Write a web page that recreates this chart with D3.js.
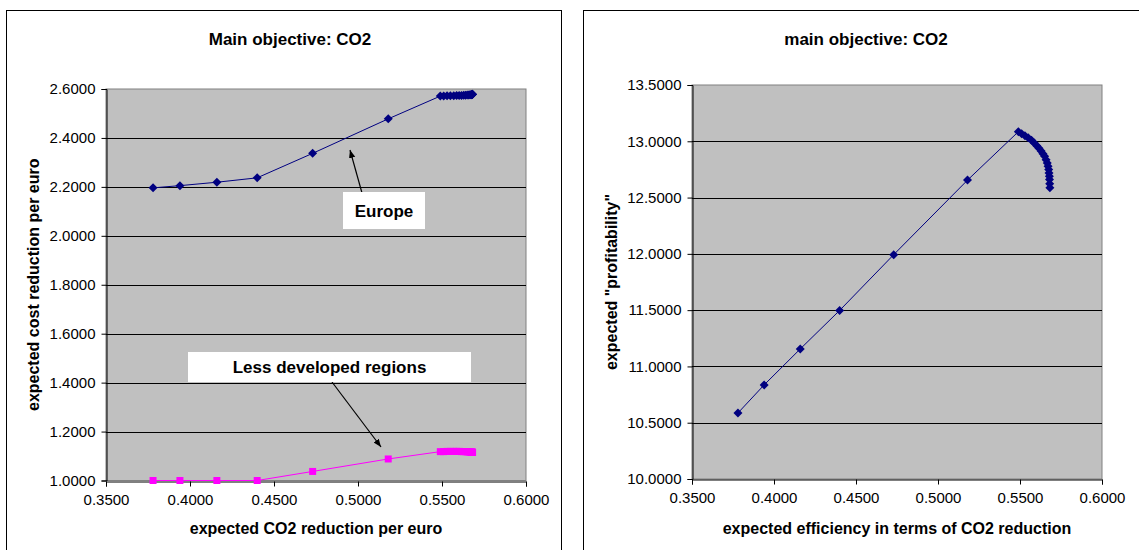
<!DOCTYPE html>
<html><head><meta charset="utf-8">
<script src="https://cdn.jsdelivr.net/npm/d3@7"></script>
<style>body{margin:0;background:#fff}svg{display:block}text{font-family:Arial,"Liberation Sans",sans-serif}</style>
</head><body>
<svg id="c" width="1139" height="550"></svg>
<script>
// ---- data ----
const co2Reduction = [0.378, 0.394, 0.416, 0.440, 0.473, 0.518,
  0.549, 0.551, 0.553, 0.555, 0.557, 0.5587, 0.5602, 0.5616, 0.5629, 0.5640,
  0.5650, 0.5659, 0.5666, 0.5671, 0.5675, 0.5677, 0.5679, 0.5680, 0.5681, 0.5682];
const europeCost = [2.196, 2.205, 2.219, 2.237, 2.337, 2.478,
  2.571, 2.571, 2.572, 2.572, 2.572, 2.573, 2.573, 2.573, 2.574, 2.574,
  2.575, 2.575, 2.576, 2.576, 2.577, 2.577, 2.578, 2.578, 2.579, 2.579];
const lessDevelopedCost = [1.000, 1.000, 1.000, 1.000, 1.037, 1.088,
  1.118, 1.118, 1.119, 1.119, 1.119, 1.119, 1.119, 1.118, 1.118, 1.118,
  1.117, 1.117, 1.117, 1.116, 1.116, 1.116, 1.116, 1.115, 1.115, 1.115];
const profitability = [10.586, 10.836, 11.155, 11.497, 11.993, 12.655,
  13.085, 13.067, 13.050, 13.032, 13.009, 12.985, 12.961, 12.938, 12.914, 12.890,
  12.867, 12.837, 12.808, 12.779, 12.749, 12.719, 12.690, 12.660, 12.622, 12.587];
const xTicks = [0.35, 0.40, 0.45, 0.50, 0.55, 0.60];
const leftYTicks = [1.0, 1.2, 1.4, 1.6, 1.8, 2.0, 2.2, 2.4, 2.6];
const rightYTicks = [10.0, 10.5, 11.0, 11.5, 12.0, 12.5, 13.0, 13.5];
const leftTitle = "Main objective: CO2";
const rightTitle = "main objective: CO2";
const leftXLabel = "expected CO2 reduction per euro";
const leftYLabel = "expected cost reduction per euro";
const rightXLabel = "expected efficiency in terms of CO2 reduction";
const rightYLabel = "expected \"profitability\"";

const svg = d3.select("#c");
const fmt = d3.format(".4f");
const NAVY = "#000080", PINK = "#FF00FF";

svg.append("defs").append("marker").attr("id","arr").attr("viewBox","0 0 10 10")
  .attr("refX",10).attr("refY",5).attr("markerWidth",8).attr("markerHeight",8)
  .attr("markerUnits","userSpaceOnUse").attr("orient","auto")
  .append("path").attr("d","M0,1 L10,5 L0,9 Z").attr("fill","#000");

function chart(o){
  const g = svg.append("g");
  g.append("rect").attr("x",o.frame[0]+0.5).attr("y",o.frame[1]+0.5)
    .attr("width",o.frame[2]).attr("height",o.frame[3]).attr("fill","#fff").attr("stroke","#000");
  const x = d3.scaleLinear().domain([0.35,0.6]).range([o.px0,o.px1]);
  const y = d3.scaleLinear().domain(o.ydom).range([o.py0,o.py1]);
  g.append("rect").attr("x",o.px0).attr("y",o.py1).attr("width",o.px1-o.px0).attr("height",o.py0-o.py1)
    .attr("fill","#C0C0C0").attr("stroke","#808080");
  g.selectAll(".grid").data(o.yTicks.slice(1,-1)).enter().append("line")
    .attr("x1",o.px0).attr("x2",o.px1).attr("y1",d=>Math.round(y(d))+0.5).attr("y2",d=>Math.round(y(d))+0.5)
    .attr("stroke","#000");
  const ax = g.append("g").attr("transform",`translate(0,${Math.round(o.py0)+0.5})`)
    .call(d3.axisBottom(x).tickValues(xTicks).tickFormat(fmt).tickSizeOuter(0).tickSize(5).tickPadding(8));
  const ay = g.append("g").attr("transform",`translate(${Math.round(o.px0)+0.5},0)`)
    .call(d3.axisLeft(y).tickValues(o.yTicks).tickFormat(fmt).tickSizeOuter(0).tickSize(5).tickPadding(6));
  [ax,ay].forEach(a=>{
    a.selectAll("text").attr("font-size","15px").attr("fill","#000");
    a.selectAll("line,path").attr("stroke","#000");
  });
  g.append("text").attr("x",o.titleX).attr("y",45).attr("text-anchor","middle")
    .attr("font-size","17px").attr("font-weight","bold").text(o.title);
  g.append("text").attr("x",(o.px0+o.px1)/2).attr("y",534).attr("text-anchor","middle")
    .attr("font-size","16px").attr("font-weight","bold").text(o.xlabel);
  g.append("text").attr("transform",`translate(${o.ylabX},${(o.py0+o.py1)/2}) rotate(-90)`)
    .attr("text-anchor","middle").attr("font-size","16px").attr("font-weight","bold").text(o.ylabel);
  return {g,x,y};
}

const diamond = "M0,-4.5L4.5,0L0,4.5L-4.5,0Z";
const square = "M-3.5,-3.5H3.5V3.5H-3.5Z";
function series(c, xs, ys, color, shape){
  const pts = xs.map((d,i)=>[c.x(d), c.y(ys[i])]);
  c.g.append("path").attr("d", d3.line()(pts)).attr("fill","none").attr("stroke",color).attr("stroke-width",1);
  c.g.selectAll(null).data(pts).enter().append("path")
    .attr("d", shape==="square" ? square : diamond)
    .attr("transform",d=>`translate(${d[0]},${d[1]})`).attr("fill",color);
}

const L = chart({frame:[6,10,555,560], px0:106, px1:526, py0:480.5, py1:89, ydom:[1.0,2.6],
  yTicks:leftYTicks, title:leftTitle, titleX:290, xlabel:leftXLabel, ylabel:leftYLabel, ylabX:39});
series(L, co2Reduction, lessDevelopedCost, PINK, "square");
series(L, co2Reduction, europeCost, NAVY, "diamond");

function note(g, bx, by, bw, bh, label, fs, a){
  g.append("line").attr("x1",a[0]).attr("y1",a[1]).attr("x2",a[2]).attr("y2",a[3])
    .attr("stroke","#000").attr("stroke-width",1.2).attr("marker-end","url(#arr)");
  g.append("rect").attr("x",bx).attr("y",by).attr("width",bw).attr("height",bh).attr("fill","#fff");
  g.append("text").attr("x",bx+bw/2).attr("y",by+bh/2+fs*0.36).attr("text-anchor","middle")
    .attr("font-size",fs+"px").attr("font-weight","bold").text(label);
}
note(L.g, 343, 192, 82, 37, "Europe", 17, [362,193,350,150]);
note(L.g, 188, 352, 283, 30, "Less developed regions", 17, [332,382,381,447]);

const R = chart({frame:[583,10,560,560], px0:692, px1:1102, py0:479, py1:85, ydom:[10,13.5],
  yTicks:rightYTicks, title:rightTitle, titleX:866, xlabel:rightXLabel, ylabel:rightYLabel, ylabX:617});
series(R, co2Reduction, profitability, NAVY, "diamond");
</script>
</body></html>
